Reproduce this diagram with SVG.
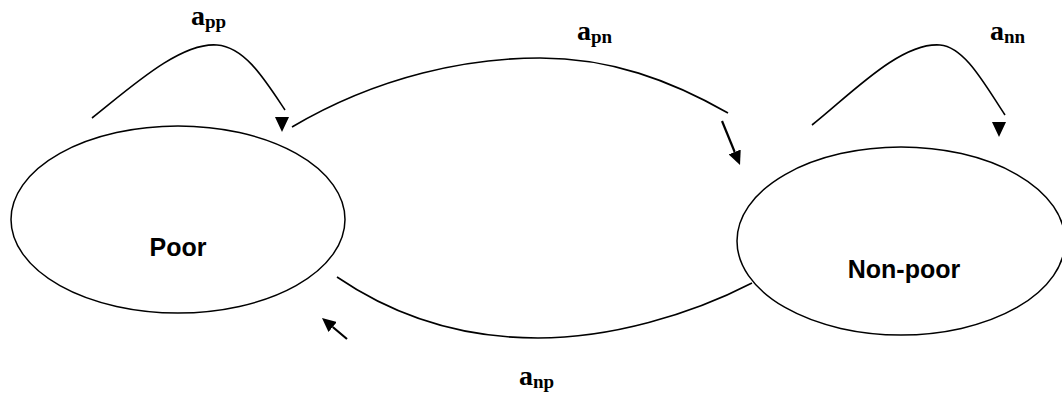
<svg xmlns="http://www.w3.org/2000/svg" xmlns:xlink="http://www.w3.org/1999/xlink" width="1062" height="393" viewBox="0 0 1062 393">
<style>
.node{fill:#fff;stroke:#000;stroke-width:1.5}
.ntext{font-family:"Liberation Sans",Arial,sans-serif;font-weight:bold;font-size:25px;fill:#000;text-anchor:middle}
.edge{fill:none;stroke:#000;stroke-width:1.6}
.stub{fill:none;stroke:#000;stroke-width:2.2}
.tri{fill:#000;stroke:none}
.lbl{font-family:"Liberation Serif","Times New Roman",serif;font-weight:bold;font-size:28px;fill:#000}
.sub{font-size:19px}
</style>
<defs>
<marker id="ah" viewBox="0 0 14 13" refX="0" refY="6.5" markerWidth="14" markerHeight="13" markerUnits="userSpaceOnUse" orient="auto">
<path d="M0,0 L14,6.5 L0,13 z" fill="#000"/>
</marker>
<path id="downTri" d="M-7,0 L7,0 L0,15 z"/>
</defs>
<rect width="1062" height="393" fill="#fff"/>
<g id="node-poor">
<ellipse class="node" cx="178" cy="219.5" rx="167" ry="93.5"/>
<text class="ntext" x="178" y="256">Poor</text>
</g>
<g id="node-nonpoor">
<ellipse class="node" cx="901" cy="241" rx="164" ry="94"/>
<text class="ntext" x="904" y="278">Non-poor</text>
</g>
<g id="connectors">
<path class="edge" d="M92,118 C130,88 180,42 217,45 C245,47 265,80 285,110"/>
<use class="tri" xlink:href="#downTri" x="282" y="117"/>
<path class="edge" d="M812,125 C850,95 900,42 940,45 C965,47 985,85 1005,115"/>
<use class="tri" xlink:href="#downTri" x="999" y="122"/>
<path class="edge" d="M292,127 C380,75 470,58 540,58 C610,58 670,80 728,113"/>
<line class="stub" x1="722" y1="121" x2="734.7" y2="152" marker-end="url(#ah)"/>
<path class="edge" d="M337,277 C400,320 470,338 538,338 C610,338 690,315 752,283"/>
<line class="stub" x1="347" y1="339" x2="332.7" y2="327" marker-end="url(#ah)"/>
</g>
<g id="labels">
<text class="lbl" x="191" y="25">a<tspan class="sub" dy="3">pp</tspan></text>
<text class="lbl" x="577" y="40">a<tspan class="sub" dy="3">pn</tspan></text>
<text class="lbl" x="990" y="40">a<tspan class="sub" dy="3">nn</tspan></text>
<text class="lbl" x="519" y="385">a<tspan class="sub" dy="3">np</tspan></text>
</g>
</svg>
